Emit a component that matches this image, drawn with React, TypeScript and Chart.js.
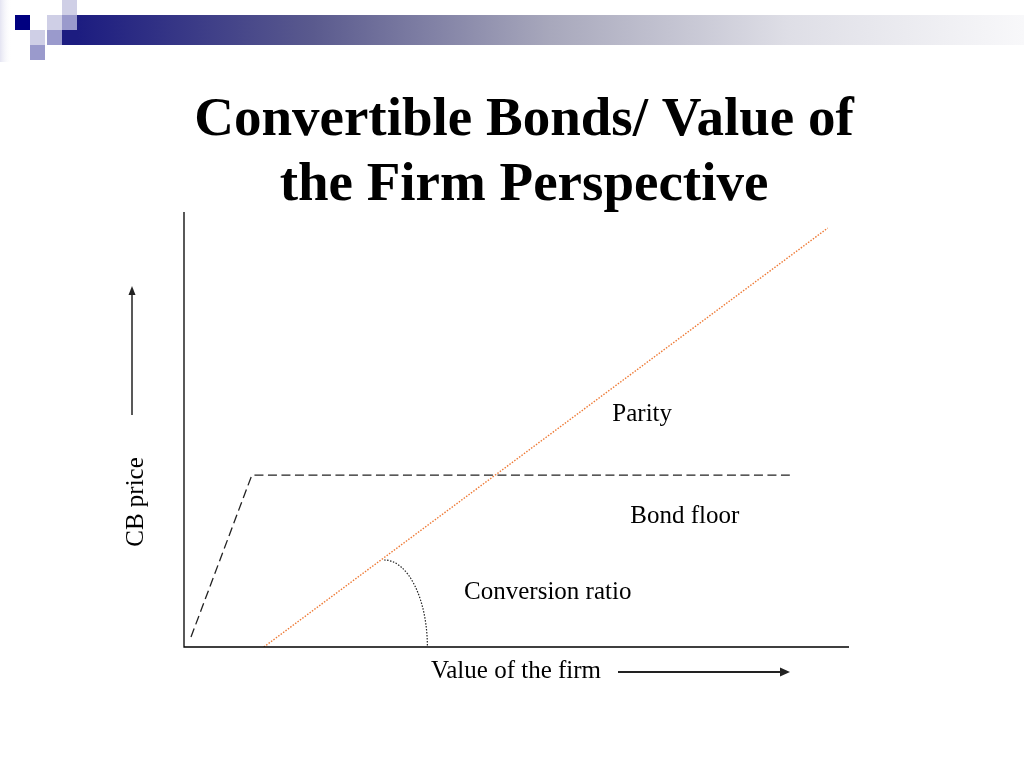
import React, { useEffect, useRef } from "react";
import { Chart, registerables } from "chart.js";

Chart.register(...registerables);

// ---- data (chart units: both axes 0..100) ----
const TITLE_LINES = ["Convertible Bonds/ Value of", "the Firm Perspective"];
const bondFloorX = [1.05, 10.2, 91.1];
const bondFloorY = [2.3, 39.5, 39.5];
const parityX = [12.0, 96.8];
const parityY = [0, 96.3];
const conversionArcCenter = [30.1, 0];
const conversionArcRadii = [6.5, 20.0];
const curveLabels = ["Parity", "Bond floor", "Conversion ratio"];
const curveLabelAnchors = [
  [68.9, 52.0],
  [75.3, 28.5],
  [54.7, 11.0],
];
const X_AXIS_LABEL = "Value of the firm";
const Y_AXIS_LABEL = "CB price";

const SERIF = "'Liberation Serif', 'Times New Roman', serif";

const slidePlugin = {
  id: "slideDecor",
  beforeDraw(chart: any) {
    const ctx = chart.ctx as CanvasRenderingContext2D;
    ctx.save();
    ctx.fillStyle = "#ffffff";
    ctx.fillRect(0, 0, chart.width, chart.height);

    // faint left edge
    const lg = ctx.createLinearGradient(0, 0, 12, 0);
    lg.addColorStop(0, "#e4e4f2");
    lg.addColorStop(1, "rgba(255,255,255,0)");
    ctx.fillStyle = lg;
    ctx.fillRect(0, 0, 12, 62);

    // gradient bar
    const g = ctx.createLinearGradient(77, 0, 1024, 0);
    g.addColorStop(0, "#1c1c80");
    g.addColorStop(0.25, "#5a5a8e");
    g.addColorStop(0.5, "#a8a8bc");
    g.addColorStop(0.75, "#dedee6");
    g.addColorStop(1, "#f8f8fa");
    ctx.fillStyle = g;
    ctx.fillRect(77, 15, 947, 30);
    ctx.fillStyle = "#1c1c80";
    ctx.fillRect(62, 30, 15, 15);

    // squares
    ctx.fillStyle = "#000080";
    ctx.fillRect(15, 15, 15, 15);
    ctx.fillStyle = "#cfcfe6";
    ctx.fillRect(62, 0, 15, 15);
    ctx.fillRect(47, 15, 15, 15);
    ctx.fillRect(30, 30, 15, 15);
    ctx.fillStyle = "#9a9acc";
    ctx.fillRect(62, 15, 15, 15);
    ctx.fillRect(47, 30, 15, 15);
    ctx.fillRect(30, 45, 15, 15);

    // title
    ctx.fillStyle = "#000000";
    ctx.font = `bold 55px ${SERIF}`;
    ctx.textAlign = "center";
    ctx.textBaseline = "alphabetic";
    ctx.fillText(TITLE_LINES[0], 524, 135);
    ctx.fillText(TITLE_LINES[1], 524, 200);
    ctx.restore();
  },
  afterDraw(chart: any) {
    const ctx = chart.ctx as CanvasRenderingContext2D;
    const { left, right, top, bottom } = chart.chartArea;
    const xs = chart.scales.x;
    const ys = chart.scales.y;
    ctx.save();

    // axes
    ctx.strokeStyle = "#000";
    ctx.lineWidth = 1.3;
    ctx.setLineDash([]);
    ctx.beginPath();
    ctx.moveTo(left, top);
    ctx.lineTo(left, bottom);
    ctx.lineTo(right, bottom);
    ctx.stroke();

    // conversion ratio arc
    const cx = xs.getPixelForValue(conversionArcCenter[0]);
    const cy = ys.getPixelForValue(conversionArcCenter[1]);
    const rx = xs.getPixelForValue(conversionArcCenter[0] + conversionArcRadii[0]) - cx;
    const ry = cy - ys.getPixelForValue(conversionArcCenter[1] + conversionArcRadii[1]);
    ctx.strokeStyle = "#222";
    ctx.lineWidth = 1.2;
    ctx.setLineDash([1.5, 1.5]);
    ctx.beginPath();
    ctx.ellipse(cx, cy, rx, ry, 0, -Math.PI / 2, 0);
    ctx.stroke();
    ctx.setLineDash([]);

    // curve labels
    ctx.fillStyle = "#000";
    ctx.font = `25px ${SERIF}`;
    ctx.textAlign = "center";
    ctx.textBaseline = "alphabetic";
    curveLabels.forEach((t, i) => {
      ctx.fillText(
        t,
        xs.getPixelForValue(curveLabelAnchors[i][0]),
        ys.getPixelForValue(curveLabelAnchors[i][1])
      );
    });

    // x axis label + arrow
    ctx.fillText(X_AXIS_LABEL, 516, 678);
    ctx.strokeStyle = "#222";
    ctx.fillStyle = "#222";
    ctx.lineWidth = 2;
    ctx.beginPath();
    ctx.moveTo(618, 672);
    ctx.lineTo(782, 672);
    ctx.stroke();
    ctx.beginPath();
    ctx.moveTo(790, 672);
    ctx.lineTo(780, 667.5);
    ctx.lineTo(780, 676.5);
    ctx.closePath();
    ctx.fill();

    // y axis label + arrow
    ctx.save();
    ctx.translate(143, 502);
    ctx.rotate(-Math.PI / 2);
    ctx.fillStyle = "#000";
    ctx.fillText(Y_AXIS_LABEL, 0, 0);
    ctx.restore();
    ctx.strokeStyle = "#222";
    ctx.fillStyle = "#222";
    ctx.lineWidth = 1.5;
    ctx.beginPath();
    ctx.moveTo(132, 415);
    ctx.lineTo(132, 294);
    ctx.stroke();
    ctx.beginPath();
    ctx.moveTo(132, 286);
    ctx.lineTo(128.5, 295);
    ctx.lineTo(135.5, 295);
    ctx.closePath();
    ctx.fill();

    ctx.restore();
  },
};

export default function App() {
  const ref = useRef<HTMLCanvasElement | null>(null);
  useEffect(() => {
    if (!ref.current) return;
    const chart = new Chart(ref.current, {
      type: "scatter",
      data: {
        datasets: [
          {
            label: "Bond floor",
            data: bondFloorX.map((x, i) => ({ x, y: bondFloorY[i] })),
            showLine: true,
            borderColor: "#222222",
            borderWidth: 1.3,
            borderDash: [9, 4.5],
            pointRadius: 0,
            fill: false,
          },
          {
            label: "Parity",
            data: parityX.map((x, i) => ({ x, y: parityY[i] })),
            showLine: true,
            borderColor: "#ee7a36",
            borderWidth: 1.4,
            borderDash: [1.5, 1.5],
            pointRadius: 0,
            fill: false,
          },
        ],
      },
      options: {
        responsive: false,
        animation: false,
        devicePixelRatio: 1,
        layout: { padding: { left: 184, top: 212, right: 175, bottom: 121 } },
        scales: {
          x: { type: "linear", min: 0, max: 100, display: false },
          y: { type: "linear", min: 0, max: 100, display: false },
        },
        plugins: {
          legend: { display: false },
          tooltip: { enabled: false },
          title: { display: false },
        },
      },
      plugins: [slidePlugin],
    });
    return () => chart.destroy();
  }, []);
  return (
    <div style={{ position: "absolute", left: 0, top: 0, width: 1024, height: 768 }}>
      <canvas ref={ref} width={1024} height={768} style={{ display: "block" }} />
    </div>
  );
}
